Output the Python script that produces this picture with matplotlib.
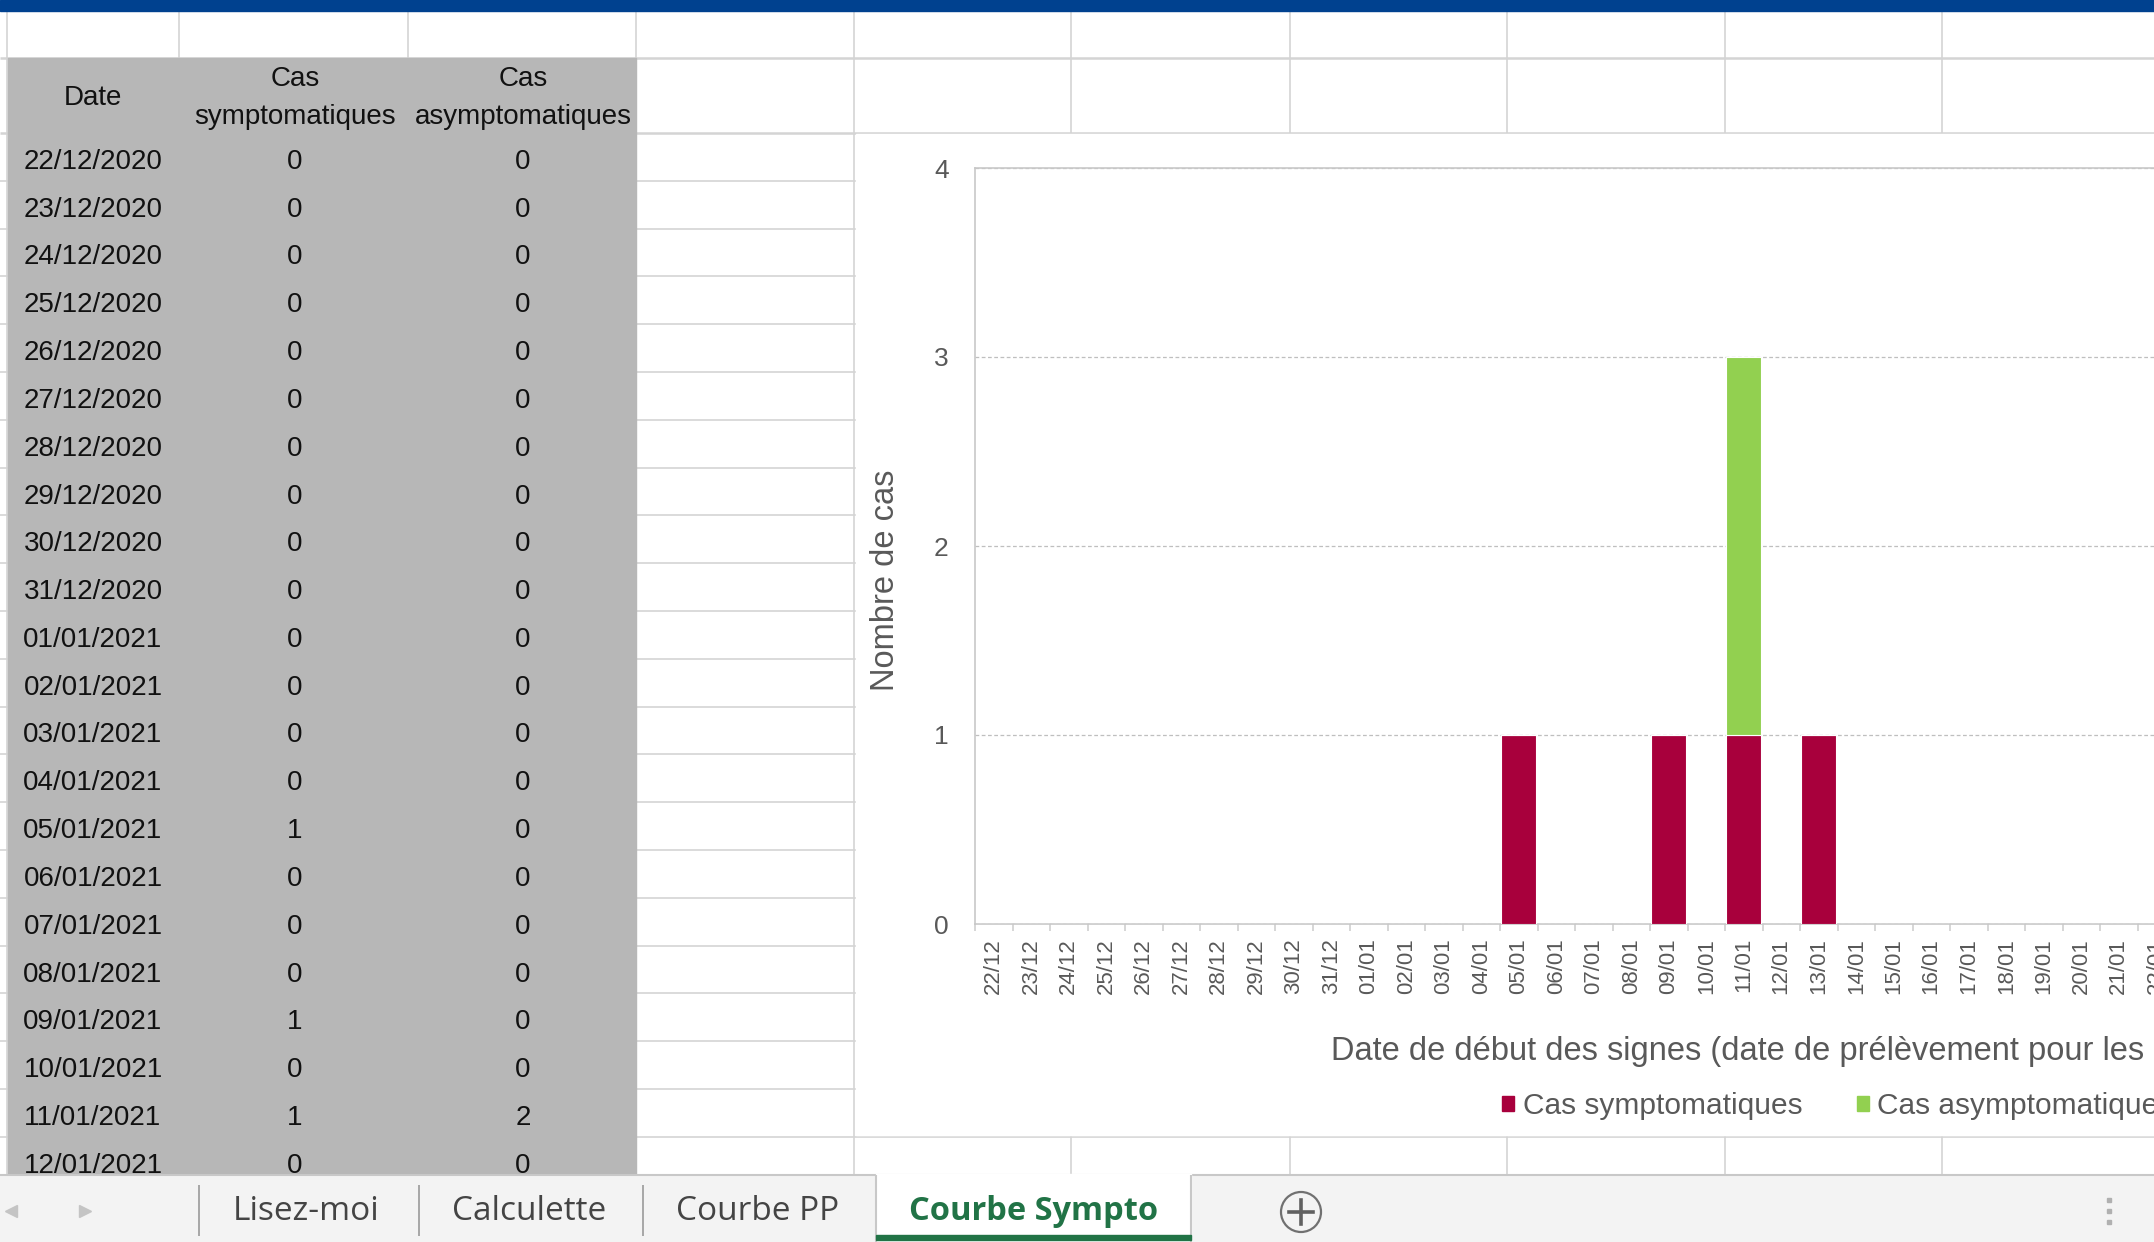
import matplotlib
matplotlib.use('Agg')
import matplotlib.pyplot as plt
import numpy as np
import pandas as pd
from matplotlib.patches import Rectangle, Circle, Patch

W, H = 2154, 1242

# daily counts, one entry per day from 22/12/2020
dates = pd.date_range('2020-12-22', periods=48, freq='D')
sympto = [0, 0, 0, 0, 0, 0, 0, 0, 0, 0, 0, 0, 0, 0, 1, 0,
          0, 0, 1, 0, 1, 0, 1, 0, 0, 0, 0, 0, 0, 0, 0, 0,
          0, 0, 0, 0, 0, 0, 0, 0, 0, 0, 0, 0, 0, 0, 0, 0]
asympto = [0, 0, 0, 0, 0, 0, 0, 0, 0, 0, 0, 0, 0, 0, 0, 0,
           0, 0, 0, 0, 2, 0, 0, 0, 0, 0, 0, 0, 0, 0, 0, 0,
           0, 0, 0, 0, 0, 0, 0, 0, 0, 0, 0, 0, 0, 0, 0, 0]
n_table_rows = 22
tabs = ['Lisez-moi', 'Calculette', 'Courbe PP', 'Courbe Sympto']
tab_x = [306, 529, 758, 1034]

plt.rcParams['font.family'] = ['Liberation Sans', 'DejaVu Sans']

GRID = '#D4D4D4'
TXT = '#595959'
RED = '#A8003C'
GREEN = '#92D050'

fig = plt.figure(figsize=(W / 100, H / 100), dpi=100)
fig.patch.set_facecolor('white')

# worksheet drawn in pixel coordinates
sheet = fig.add_axes([0, 0, 1, 1])
sheet.set_xlim(0, W)
sheet.set_ylim(H, 0)
sheet.axis('off')


def hline(y, x0, x1, z=1, c=GRID, lw=1.2):
    sheet.plot([x0, x1], [y, y], color=c, lw=lw, zorder=z, solid_capstyle='butt')


def vline(x, y0, y1, z=1, c=GRID, lw=1.2):
    sheet.plot([x, x], [y0, y1], color=c, lw=lw, zorder=z, solid_capstyle='butt')


cols = [179, 408, 636, 854, 1071, 1290, 1507, 1725, 1942]
row_top = 133
row_h = 47.8
tab_top = 1175
chart_bottom = 1136

# title bar
sheet.add_patch(Rectangle((0, 0), W, 11, color='#00418F', zorder=6))

# grid lines
vline(7, 11, tab_top)
for c in cols:
    vline(c, 11, tab_top)
hline(58, 0, W, lw=1.8)
hline(row_top, 0, W, lw=1.8)
for i in range(1, 23):
    hline(row_top + i * row_h, 0, W)

# grey data table
sheet.add_patch(Rectangle((8, 58), 628, tab_top - 58, color='#B7B7B7', zorder=2))
tkw = dict(fontsize=20, color='#111111', ha='center', va='center', zorder=3)
sheet.text(93, 98, 'Date', **tkw)
sheet.text(295, 79, 'Cas', **tkw)
sheet.text(295, 117, 'symptomatiques', **tkw)
sheet.text(523, 79, 'Cas', **tkw)
sheet.text(523, 117, 'asymptomatiques', **tkw)
for i in range(n_table_rows):
    y = row_top + (i + 0.5) * row_h + 5
    sheet.text(93, y, dates[i].strftime('%d/%m/%Y'), **tkw)
    sheet.text(295, y, str(sympto[i]), **tkw)
    sheet.text(523, y, str(asympto[i]), **tkw)

# chart area
sheet.add_patch(Rectangle((856, row_top + 1), W - 856, chart_bottom - row_top - 2,
                          color='white', zorder=4))

# sheet tab bar
sheet.add_patch(Rectangle((0, tab_top), W, H - tab_top, color='#F3F3F3', zorder=6))
hline(tab_top, 0, W, z=7, c='#C8C8C8', lw=1.5)
sheet.add_patch(Rectangle((876, tab_top - 1), 315, H - tab_top + 1, color='white', zorder=7))
vline(876, tab_top, H, z=8, c='#C8C8C8', lw=1.5)
vline(1191, tab_top, H, z=8, c='#C8C8C8', lw=1.5)
sheet.add_patch(Rectangle((876, 1235), 315, 5, color='#217346', zorder=8))
for x in [199, 419, 643]:
    vline(x, 1185, 1236, z=8, c='#9A9A9A', lw=1.2)
for name, x in zip(tabs, tab_x):
    active = name == 'Courbe Sympto'
    sheet.text(x, 1211, name, family=['Open Sans', 'DejaVu Sans'],
               fontsize=23.5 if active else 24,
               fontweight='bold' if active else 'normal',
               color='#217346' if active else '#444444',
               ha='center', va='center', zorder=9)
sheet.plot([11], [1211], marker='<', ms=9, color='#C4C4C4', zorder=9)
sheet.plot([85], [1211], marker='>', ms=9, color='#C4C4C4', zorder=9)
sheet.add_patch(Circle((1301, 1212), 20, fill=False, ec='#707070', lw=1.6, zorder=9))
sheet.plot([1289, 1313], [1212, 1212], color='#606060', lw=2.6, zorder=9)
sheet.plot([1301, 1301], [1200, 1224], color='#606060', lw=2.6, zorder=9)
for y in [1200, 1211, 1222]:
    sheet.plot([2109], [y], marker='s', ms=3.5, color='#B0B0B0', zorder=9)

# bar chart
ax = fig.add_axes([975 / W, 1 - 924 / H, 1800 / W, (924 - 168) / H])
ax.set_zorder(5)
x = np.arange(len(dates))
ax.bar(x, sympto, width=0.93, color=RED, edgecolor='white', linewidth=0.8, zorder=3)
ax.bar(x, asympto, bottom=sympto, width=0.93, color=GREEN, edgecolor='white',
       linewidth=0.8, zorder=3)
ax.set_xlim(-0.5, len(dates) - 0.5)
ax.set_ylim(0, 4)
ax.set_yticks(range(5))
ax.set_xticks(x)
ax.set_xticklabels(dates.strftime('%d/%m'), rotation=90, fontsize=16, color=TXT)
ax.set_xticks(np.arange(len(dates) + 1) - 0.5, minor=True)
ax.tick_params(axis='x', which='major', length=0, pad=10)
ax.tick_params(axis='x', which='minor', length=5, color='#D0D0D0', width=1.2)
ax.tick_params(axis='y', length=0, pad=19, labelsize=19, labelcolor=TXT)
ax.yaxis.grid(True, linestyle=(0, (3, 2)), color='#BFBFBF', linewidth=0.9)
ax.set_axisbelow(True)
for s in ax.spines.values():
    s.set_color('#C8C8C8')
    s.set_linewidth(1.2)

ax.text(0.5, -0.168, 'Date de début des signes (date de prélèvement pour les asymptomatiques)',
        transform=ax.transAxes, ha='center', va='center', fontsize=23.5, color=TXT)
fig.text(886 / W, 1 - 580 / H, 'Nombre de cas', rotation=90, ha='center', va='center',
         fontsize=23.5, color=TXT)

handles = [Patch(color=RED, label='Cas symptomatiques'),
           Patch(color=GREEN, label='Cas asymptomatiques')]
fig.legend(handles=handles, loc='center', bbox_to_anchor=(1838 / W, 1 - 1106 / H),
           ncol=2, frameon=False, fontsize=21.5, labelcolor=TXT,
           handlelength=0.4, handleheight=0.4, handletextpad=0.3, columnspacing=1.8)

fig.savefig('out.png', dpi=100)
